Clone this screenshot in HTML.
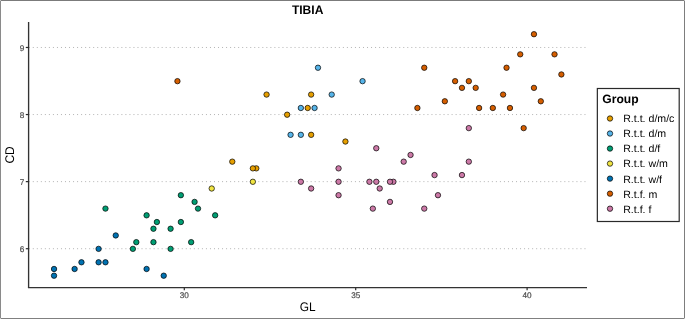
<!DOCTYPE html><html><head><meta charset="utf-8"><style>html,body{margin:0;padding:0;background:#fff;}svg{display:block;will-change:transform;}text{font-family:"Liberation Sans",sans-serif;text-rendering:geometricPrecision;}</style></head><body>
<svg width="685" height="319" viewBox="0 0 685 319">
<rect x="0" y="0" width="685" height="319" fill="#fff"/>
<rect x="0" y="0" width="685" height="319" fill="#c0c0c0"/>
<rect x="1" y="1" width="683" height="317" fill="#fff"/>
<rect x="1" y="0" width="683" height="1" fill="#7b7b7b"/>
<rect x="1" y="318" width="683" height="1" fill="#808080"/>
<rect x="0" y="1" width="1" height="317" fill="#8a8a8a"/>
<rect x="684" y="1" width="1" height="317" fill="#7d7d7d"/>
<line x1="28.75" y1="248.71" x2="587.00" y2="248.71" stroke="#b4b4b4" stroke-width="1" stroke-dasharray="1.007 3.02"/>
<line x1="28.75" y1="181.63" x2="587.00" y2="181.63" stroke="#b4b4b4" stroke-width="1" stroke-dasharray="1.007 3.02"/>
<line x1="28.75" y1="114.55" x2="587.00" y2="114.55" stroke="#b4b4b4" stroke-width="1" stroke-dasharray="1.007 3.02"/>
<line x1="28.75" y1="47.47" x2="587.00" y2="47.47" stroke="#b4b4b4" stroke-width="1" stroke-dasharray="1.007 3.02"/>
<line x1="28.6" y1="22.0" x2="28.6" y2="287.6" stroke="#333" stroke-width="1.35"/>
<line x1="27.925" y1="287.6" x2="587.0" y2="287.6" stroke="#333" stroke-width="1.35"/>
<line x1="25.8" y1="248.71" x2="28.5" y2="248.71" stroke="#2a2a2a" stroke-width="1.2"/>
<text transform="translate(24.250,251.810)" font-size="8.2" text-anchor="end" fill="#4d4d4d" stroke="#4d4d4d" stroke-width="0.2">6</text>
<line x1="25.8" y1="181.63" x2="28.5" y2="181.63" stroke="#2a2a2a" stroke-width="1.2"/>
<text transform="translate(24.250,184.730)" font-size="8.2" text-anchor="end" fill="#4d4d4d" stroke="#4d4d4d" stroke-width="0.2">7</text>
<line x1="25.8" y1="114.55" x2="28.5" y2="114.55" stroke="#2a2a2a" stroke-width="1.2"/>
<text transform="translate(24.250,117.650)" font-size="8.2" text-anchor="end" fill="#4d4d4d" stroke="#4d4d4d" stroke-width="0.2">8</text>
<line x1="25.8" y1="47.47" x2="28.5" y2="47.47" stroke="#2a2a2a" stroke-width="1.2"/>
<text transform="translate(24.250,50.570)" font-size="8.2" text-anchor="end" fill="#4d4d4d" stroke="#4d4d4d" stroke-width="0.2">9</text>
<line x1="184.30" y1="287.5" x2="184.30" y2="290.3" stroke="#2a2a2a" stroke-width="1.2"/>
<text transform="translate(184.300,297.650)" font-size="8.2" text-anchor="middle" fill="#4d4d4d" stroke="#4d4d4d" stroke-width="0.2">30</text>
<line x1="355.70" y1="287.5" x2="355.70" y2="290.3" stroke="#2a2a2a" stroke-width="1.2"/>
<text transform="translate(355.700,297.650)" font-size="8.2" text-anchor="middle" fill="#4d4d4d" stroke="#4d4d4d" stroke-width="0.2">35</text>
<line x1="527.10" y1="287.5" x2="527.10" y2="290.3" stroke="#2a2a2a" stroke-width="1.2"/>
<text transform="translate(527.100,297.650)" font-size="8.2" text-anchor="middle" fill="#4d4d4d" stroke="#4d4d4d" stroke-width="0.2">40</text>
<text transform="translate(307.600,14.270) scale(1.0000,1.0332)" font-size="12.05" font-weight="bold" text-anchor="middle" fill="#000" >TIBIA</text>
<text transform="translate(307.650,310.800) scale(1.0000,1.0504)" font-size="11.9" text-anchor="middle" fill="#000" >GL</text>
<text transform="translate(14.480,154.900) rotate(-90) scale(1.0000,1.0500)" font-size="12.0" text-anchor="middle" fill="#000" >CD</text>
<circle cx="232.29" cy="161.66" r="2.7" fill="#E69F00" stroke="#000" stroke-width="0.7"/>
<circle cx="256.29" cy="168.36" r="2.7" fill="#E69F00" stroke="#000" stroke-width="0.7"/>
<circle cx="252.86" cy="168.36" r="2.7" fill="#E69F00" stroke="#000" stroke-width="0.7"/>
<circle cx="266.57" cy="94.58" r="2.7" fill="#E69F00" stroke="#000" stroke-width="0.7"/>
<circle cx="287.14" cy="114.70" r="2.7" fill="#E69F00" stroke="#000" stroke-width="0.7"/>
<circle cx="311.14" cy="94.58" r="2.7" fill="#E69F00" stroke="#000" stroke-width="0.7"/>
<circle cx="307.71" cy="107.99" r="2.7" fill="#E69F00" stroke="#000" stroke-width="0.7"/>
<circle cx="311.14" cy="134.82" r="2.7" fill="#E69F00" stroke="#000" stroke-width="0.7"/>
<circle cx="345.42" cy="141.53" r="2.7" fill="#E69F00" stroke="#000" stroke-width="0.7"/>
<circle cx="317.99" cy="67.74" r="2.7" fill="#56B4E9" stroke="#000" stroke-width="0.7"/>
<circle cx="331.70" cy="94.58" r="2.7" fill="#56B4E9" stroke="#000" stroke-width="0.7"/>
<circle cx="362.56" cy="81.16" r="2.7" fill="#56B4E9" stroke="#000" stroke-width="0.7"/>
<circle cx="300.85" cy="107.99" r="2.7" fill="#56B4E9" stroke="#000" stroke-width="0.7"/>
<circle cx="314.56" cy="107.99" r="2.7" fill="#56B4E9" stroke="#000" stroke-width="0.7"/>
<circle cx="290.57" cy="134.82" r="2.7" fill="#56B4E9" stroke="#000" stroke-width="0.7"/>
<circle cx="300.85" cy="134.82" r="2.7" fill="#56B4E9" stroke="#000" stroke-width="0.7"/>
<circle cx="105.46" cy="208.61" r="2.7" fill="#009E73" stroke="#000" stroke-width="0.7"/>
<circle cx="146.59" cy="215.32" r="2.7" fill="#009E73" stroke="#000" stroke-width="0.7"/>
<circle cx="156.88" cy="222.03" r="2.7" fill="#009E73" stroke="#000" stroke-width="0.7"/>
<circle cx="153.45" cy="228.74" r="2.7" fill="#009E73" stroke="#000" stroke-width="0.7"/>
<circle cx="136.31" cy="242.15" r="2.7" fill="#009E73" stroke="#000" stroke-width="0.7"/>
<circle cx="153.45" cy="242.15" r="2.7" fill="#009E73" stroke="#000" stroke-width="0.7"/>
<circle cx="132.88" cy="248.86" r="2.7" fill="#009E73" stroke="#000" stroke-width="0.7"/>
<circle cx="180.87" cy="195.20" r="2.7" fill="#009E73" stroke="#000" stroke-width="0.7"/>
<circle cx="194.58" cy="201.90" r="2.7" fill="#009E73" stroke="#000" stroke-width="0.7"/>
<circle cx="198.01" cy="208.61" r="2.7" fill="#009E73" stroke="#000" stroke-width="0.7"/>
<circle cx="215.15" cy="215.32" r="2.7" fill="#009E73" stroke="#000" stroke-width="0.7"/>
<circle cx="180.87" cy="222.03" r="2.7" fill="#009E73" stroke="#000" stroke-width="0.7"/>
<circle cx="170.59" cy="228.74" r="2.7" fill="#009E73" stroke="#000" stroke-width="0.7"/>
<circle cx="191.16" cy="242.15" r="2.7" fill="#009E73" stroke="#000" stroke-width="0.7"/>
<circle cx="170.59" cy="248.86" r="2.7" fill="#009E73" stroke="#000" stroke-width="0.7"/>
<circle cx="211.72" cy="188.49" r="2.7" fill="#F0E442" stroke="#000" stroke-width="0.7"/>
<circle cx="252.86" cy="181.78" r="2.7" fill="#F0E442" stroke="#000" stroke-width="0.7"/>
<circle cx="54.04" cy="268.98" r="2.7" fill="#0072B2" stroke="#000" stroke-width="0.7"/>
<circle cx="54.04" cy="275.69" r="2.7" fill="#0072B2" stroke="#000" stroke-width="0.7"/>
<circle cx="74.60" cy="268.98" r="2.7" fill="#0072B2" stroke="#000" stroke-width="0.7"/>
<circle cx="81.46" cy="262.28" r="2.7" fill="#0072B2" stroke="#000" stroke-width="0.7"/>
<circle cx="98.60" cy="248.86" r="2.7" fill="#0072B2" stroke="#000" stroke-width="0.7"/>
<circle cx="98.60" cy="262.28" r="2.7" fill="#0072B2" stroke="#000" stroke-width="0.7"/>
<circle cx="105.46" cy="262.28" r="2.7" fill="#0072B2" stroke="#000" stroke-width="0.7"/>
<circle cx="115.74" cy="235.44" r="2.7" fill="#0072B2" stroke="#000" stroke-width="0.7"/>
<circle cx="146.59" cy="268.98" r="2.7" fill="#0072B2" stroke="#000" stroke-width="0.7"/>
<circle cx="163.73" cy="275.69" r="2.7" fill="#0072B2" stroke="#000" stroke-width="0.7"/>
<circle cx="177.44" cy="81.16" r="2.7" fill="#D55E00" stroke="#000" stroke-width="0.7"/>
<circle cx="424.26" cy="67.74" r="2.7" fill="#D55E00" stroke="#000" stroke-width="0.7"/>
<circle cx="455.11" cy="81.16" r="2.7" fill="#D55E00" stroke="#000" stroke-width="0.7"/>
<circle cx="461.97" cy="87.87" r="2.7" fill="#D55E00" stroke="#000" stroke-width="0.7"/>
<circle cx="417.40" cy="107.99" r="2.7" fill="#D55E00" stroke="#000" stroke-width="0.7"/>
<circle cx="444.83" cy="101.28" r="2.7" fill="#D55E00" stroke="#000" stroke-width="0.7"/>
<circle cx="506.53" cy="67.74" r="2.7" fill="#D55E00" stroke="#000" stroke-width="0.7"/>
<circle cx="468.82" cy="81.16" r="2.7" fill="#D55E00" stroke="#000" stroke-width="0.7"/>
<circle cx="475.68" cy="87.87" r="2.7" fill="#D55E00" stroke="#000" stroke-width="0.7"/>
<circle cx="503.10" cy="94.58" r="2.7" fill="#D55E00" stroke="#000" stroke-width="0.7"/>
<circle cx="479.11" cy="107.99" r="2.7" fill="#D55E00" stroke="#000" stroke-width="0.7"/>
<circle cx="492.82" cy="107.99" r="2.7" fill="#D55E00" stroke="#000" stroke-width="0.7"/>
<circle cx="509.96" cy="107.99" r="2.7" fill="#D55E00" stroke="#000" stroke-width="0.7"/>
<circle cx="533.96" cy="34.20" r="2.7" fill="#D55E00" stroke="#000" stroke-width="0.7"/>
<circle cx="520.24" cy="54.33" r="2.7" fill="#D55E00" stroke="#000" stroke-width="0.7"/>
<circle cx="554.52" cy="54.33" r="2.7" fill="#D55E00" stroke="#000" stroke-width="0.7"/>
<circle cx="561.38" cy="74.45" r="2.7" fill="#D55E00" stroke="#000" stroke-width="0.7"/>
<circle cx="533.96" cy="87.87" r="2.7" fill="#D55E00" stroke="#000" stroke-width="0.7"/>
<circle cx="540.81" cy="101.28" r="2.7" fill="#D55E00" stroke="#000" stroke-width="0.7"/>
<circle cx="523.67" cy="128.12" r="2.7" fill="#D55E00" stroke="#000" stroke-width="0.7"/>
<circle cx="338.56" cy="168.36" r="2.7" fill="#CC79A7" stroke="#000" stroke-width="0.7"/>
<circle cx="300.85" cy="181.78" r="2.7" fill="#CC79A7" stroke="#000" stroke-width="0.7"/>
<circle cx="338.56" cy="181.78" r="2.7" fill="#CC79A7" stroke="#000" stroke-width="0.7"/>
<circle cx="311.14" cy="188.49" r="2.7" fill="#CC79A7" stroke="#000" stroke-width="0.7"/>
<circle cx="338.56" cy="195.20" r="2.7" fill="#CC79A7" stroke="#000" stroke-width="0.7"/>
<circle cx="376.27" cy="148.24" r="2.7" fill="#CC79A7" stroke="#000" stroke-width="0.7"/>
<circle cx="403.69" cy="161.66" r="2.7" fill="#CC79A7" stroke="#000" stroke-width="0.7"/>
<circle cx="410.55" cy="154.95" r="2.7" fill="#CC79A7" stroke="#000" stroke-width="0.7"/>
<circle cx="369.41" cy="181.78" r="2.7" fill="#CC79A7" stroke="#000" stroke-width="0.7"/>
<circle cx="376.27" cy="181.78" r="2.7" fill="#CC79A7" stroke="#000" stroke-width="0.7"/>
<circle cx="393.41" cy="181.78" r="2.7" fill="#CC79A7" stroke="#000" stroke-width="0.7"/>
<circle cx="389.98" cy="181.78" r="2.7" fill="#CC79A7" stroke="#000" stroke-width="0.7"/>
<circle cx="379.70" cy="188.49" r="2.7" fill="#CC79A7" stroke="#000" stroke-width="0.7"/>
<circle cx="389.98" cy="201.90" r="2.7" fill="#CC79A7" stroke="#000" stroke-width="0.7"/>
<circle cx="372.84" cy="208.61" r="2.7" fill="#CC79A7" stroke="#000" stroke-width="0.7"/>
<circle cx="434.54" cy="175.07" r="2.7" fill="#CC79A7" stroke="#000" stroke-width="0.7"/>
<circle cx="461.97" cy="175.07" r="2.7" fill="#CC79A7" stroke="#000" stroke-width="0.7"/>
<circle cx="468.82" cy="128.12" r="2.7" fill="#CC79A7" stroke="#000" stroke-width="0.7"/>
<circle cx="468.82" cy="161.66" r="2.7" fill="#CC79A7" stroke="#000" stroke-width="0.7"/>
<circle cx="437.97" cy="195.20" r="2.7" fill="#CC79A7" stroke="#000" stroke-width="0.7"/>
<circle cx="424.26" cy="208.61" r="2.7" fill="#CC79A7" stroke="#000" stroke-width="0.7"/>
<rect x="597.35" y="88.5" width="81.85" height="133" fill="#fff" stroke="#2a2a2a" stroke-width="1.2"/>
<text transform="translate(602.300,103.350)" font-size="12.1" font-weight="bold" fill="#000" >Group</text>
<circle cx="610" cy="118.50" r="2.7" fill="#E69F00" stroke="#000" stroke-width="0.7"/>
<text transform="translate(623.130,122.400) scale(1.0000,0.9887)" font-size="10.62" fill="#000" >R.t.t. d/m/c</text>
<circle cx="610" cy="133.53" r="2.7" fill="#56B4E9" stroke="#000" stroke-width="0.7"/>
<text transform="translate(623.130,137.430) scale(1.0000,0.9887)" font-size="10.62" fill="#000" >R.t.t. d/m</text>
<circle cx="610" cy="148.56" r="2.7" fill="#009E73" stroke="#000" stroke-width="0.7"/>
<text transform="translate(623.130,152.460) scale(1.0000,0.9887)" font-size="10.62" fill="#000" >R.t.t. d/f</text>
<circle cx="610" cy="163.59" r="2.7" fill="#F0E442" stroke="#000" stroke-width="0.7"/>
<text transform="translate(623.130,167.490) scale(1.0000,0.9887)" font-size="10.62" fill="#000" >R.t.t. w/m</text>
<circle cx="610" cy="178.62" r="2.7" fill="#0072B2" stroke="#000" stroke-width="0.7"/>
<text transform="translate(623.130,182.520) scale(1.0000,0.9887)" font-size="10.62" fill="#000" >R.t.t. w/f</text>
<circle cx="610" cy="193.65" r="2.7" fill="#D55E00" stroke="#000" stroke-width="0.7"/>
<text transform="translate(623.130,197.550) scale(1.0000,0.9887)" font-size="10.62" fill="#000" >R.t.f. m</text>
<circle cx="610" cy="208.68" r="2.7" fill="#CC79A7" stroke="#000" stroke-width="0.7"/>
<text transform="translate(623.130,212.580) scale(1.0000,0.9887)" font-size="10.62" fill="#000" >R.t.f. f</text>
</svg></body></html>
